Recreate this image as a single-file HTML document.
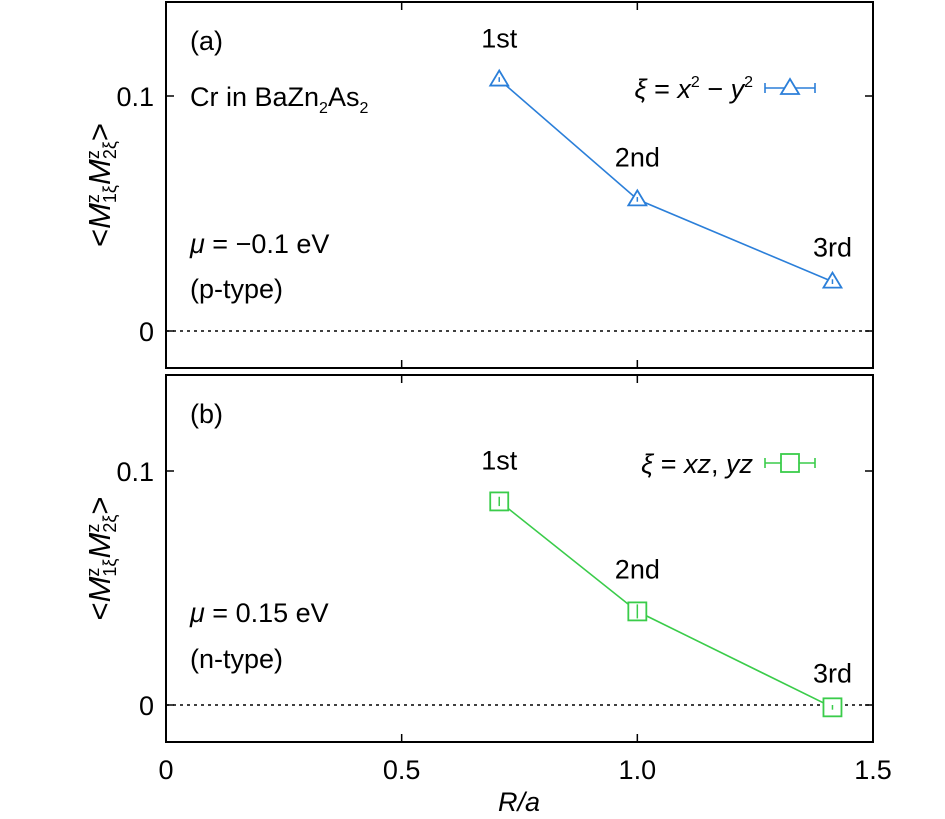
<!DOCTYPE html>
<html><head><meta charset="utf-8"><style>
body{margin:0;background:#fff}
svg{display:block;font-family:"Liberation Sans",sans-serif}
</style></head><body>
<svg id="c" width="945" height="819" xmlns="http://www.w3.org/2000/svg"></svg>
<script>
const categories=["1st","2nd","3rd"];
const xValues=[0.707,1.0,1.414];
const seriesA=[0.107,0.056,0.021];
const seriesB=[0.087,0.040,-0.001];
const errA=[0.001,0.001,0.001];
const errB=[0.002,0.003,0.001];
const xTicks=[0,0.5,1.0,1.5];
const xTickLabels=["0","0.5","1.0","1.5"];
const yTicks=[0,0.1];
const yTickLabels=["0","0.1"];
const NS="http://www.w3.org/2000/svg";
const svg=document.getElementById('c');
function el(t,a,p){const e=document.createElementNS(NS,t);for(const k in a)e.setAttribute(k,a[k]);(p||svg).appendChild(e);return e;}
const X0=166,X1=873;
const FS=27;
const sx=v=>X0+(v-0)/(1.5)*(X1-X0);
const panels=[
 {top:2,bot:368,y0:331,y01:96,data:seriesA,err:errA,color:"#2b7fd9",label:"(a)",mark:"tri",name:"panel-a"},
 {top:375,bot:742,y0:705,y01:471,data:seriesB,err:errB,color:"#3acc4a",label:"(b)",mark:"sq",name:"panel-b"}];
panels.forEach((p,pi)=>{
 const sy=v=>p.y0+(p.y01-p.y0)*v/0.1;
 const g=el('g',{});
 
 
 const fr=el('rect',{x:X0,y:p.top,width:X1-X0,height:p.bot-p.top,fill:'none',stroke:'#000','stroke-width':2},g);
 
 
 const zl=el('line',{x1:X0,x2:X1,y1:sy(0),y2:sy(0),stroke:'#000','stroke-width':1.5,'stroke-dasharray':'3,4'},g);
 
 
 yTicks.forEach((v,i)=>{
  el('line',{x1:X0,x2:X0+8,y1:sy(v),y2:sy(v),stroke:'#000','stroke-width':1.5},g);
  el('line',{x1:X1,x2:X1-8,y1:sy(v),y2:sy(v),stroke:'#000','stroke-width':1.5},g);
  const t=el('text',{x:X0-12,y:sy(v)+10,'text-anchor':'end','font-size':FS},g);t.textContent=yTickLabels[i];
  
  
 });
 xTicks.forEach((v,i)=>{
  el('line',{x1:sx(v),x2:sx(v),y1:p.bot,y2:p.bot-8,stroke:'#000','stroke-width':1.5},g);
  el('line',{x1:sx(v),x2:sx(v),y1:p.top,y2:p.top+8,stroke:'#000','stroke-width':1.5},g);
  if(pi==1){const t=el('text',{x:sx(v),y:779,'text-anchor':'middle','font-size':FS},g);t.textContent=xTickLabels[i];
  
  }
 });
 const yl=el('text',{transform:`translate(110,${(p.top+p.bot)/2}) rotate(-90)`,'text-anchor':'middle','font-size':31},g);
 yl.innerHTML='&lt;<tspan font-style="italic">M</tspan><tspan font-size="18" dy="-11">z</tspan><tspan font-size="18" dx="-9" dy="17">1ξ</tspan><tspan font-style="italic" dy="-6">M</tspan><tspan font-size="18" dy="-11">z</tspan><tspan font-size="18" dx="-9" dy="17">2ξ</tspan><tspan dy="-6">&gt;</tspan>';
 
 
 const lab=el('text',{x:190,y:p.top+48,'font-size':FS},g);lab.textContent=p.label;
 
 
 let d='';
 p.data.forEach((v,i)=>{d+=(i?'L':'M')+sx(xValues[i])+','+sy(v);});
 const ln=el('path',{d,fill:'none',stroke:p.color,'stroke-width':1.6},g);
 
 
 const mk=(cx,cy,parent)=>{
  if(p.mark=='tri') return el('path',{d:`M${cx-9},${cy+6}L${cx},${cy-9}L${cx+9},${cy+6}Z`,fill:'#fff',stroke:p.color,'stroke-width':1.8},parent);
  return el('rect',{x:cx-9,y:cy-9,width:18,height:18,fill:'#fff',stroke:p.color,'stroke-width':1.8},parent);
 };
 const lblOff=[{dx:0,dy:-32},{dx:0,dy:-33},{dx:0,dy:-25}];
 p.data.forEach((v,i)=>{
  const cx=sx(xValues[i]),cy=sy(v);
  const m=mk(cx,cy,g);
  
  
  el('line',{x1:cx,x2:cx,y1:sy(v-p.err[i]),y2:sy(v+p.err[i]),stroke:p.color,'stroke-width':1.5},g);
  const t=el('text',{x:cx+lblOff[i].dx,y:cy+lblOff[i].dy,'text-anchor':'middle','font-size':FS},g);
  t.textContent=categories[i];
  
  
 });
 const ly=pi==0?88:463;
 const leg=el('g',{},g);
 
 
 el('line',{x1:765,x2:815,y1:ly,y2:ly,stroke:p.color,'stroke-width':1.6},leg);
 el('line',{x1:765,x2:765,y1:ly-5,y2:ly+5,stroke:p.color,'stroke-width':1.6},leg);
 el('line',{x1:815,x2:815,y1:ly-5,y2:ly+5,stroke:p.color,'stroke-width':1.6},leg);
 mk(790,ly,leg);
 const lt=el('text',{x:753,y:ly+10,'text-anchor':'end','font-size':FS},leg);
 if(pi==0) lt.innerHTML='<tspan font-style="italic">ξ</tspan> = <tspan font-style="italic">x</tspan><tspan font-size="16" dy="-11">2</tspan><tspan dy="11"> − </tspan><tspan font-style="italic">y</tspan><tspan font-size="16" dy="-11">2</tspan>';
 else lt.innerHTML='<tspan font-style="italic">ξ</tspan> = <tspan font-style="italic">xz</tspan>, <tspan font-style="italic">yz</tspan>';
});
function txt(x,y,html,name){const t=el('text',{x,y,'font-size':FS});t.innerHTML=html;}
txt(190,106,'Cr in BaZn<tspan font-size="16" dy="7">2</tspan><tspan dy="-7">As</tspan><tspan font-size="16" dy="7">2</tspan>','material-label');
txt(190,253,'<tspan font-style="italic">μ</tspan> = −0.1 eV','mu-label-a');
txt(190,298,'(p-type)','type-label-a');
txt(190,622,'<tspan font-style="italic">μ</tspan> = 0.15 eV','mu-label-b');
txt(190,668,'(n-type)','type-label-b');
const xt=el('text',{x:519,y:811,'text-anchor':'middle','font-size':FS,'font-style':'italic'});
xt.textContent='R/a';


</script>
</body></html>
